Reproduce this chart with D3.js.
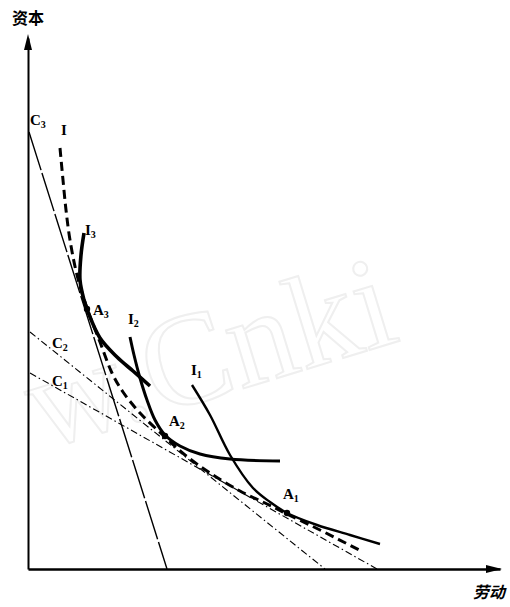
<!DOCTYPE html>
<html><head><meta charset="utf-8">
<script src="https://cdn.jsdelivr.net/npm/d3@7/dist/d3.min.js"></script>
<style>body{margin:0;background:#fff}svg{display:block}</style>
</head><body><svg id="c" width="510" height="607"></svg>
<script>
// Data (labour on x, capital on y, arbitrary units)
const envelopeI = [[32,421],[35,389],[38,359],[42,329],[49,294],[59,261],[72,227],[84,196],[95,177],[112,156],[137,132],[157,114],[182,96],[212,78],[239,65],[259,55],[292,39],[335,17]];
const isoI3 = [[56,336],[53,314],[52,289],[56,269],[60,257],[72,231],[89,212],[105,198],[122,183]];
const isoI2 = [[102,232],[106,214],[112,191],[119,169],[127,149],[137,134],[152,123],[172,115],[202,110],[252,108]];
const isoI1 = [[164,184],[182,154],[202,114],[225,81],[242,67],[259,56],[289,44],[322,34],[352,25]];
const costC3 = [[1,437],[139,0]];
const costC2 = [[2,237],[297,0]];
const costC1 = [[2,196],[349,0]];
const tangentPoints = [["A","1",259,56],["A","2",137,133],["A","3",59,260]];
const axisLabels = {x:"劳动", y:"资本"};

const svg = d3.select("#c");
const x = d3.scaleLinear().domain([0,472]).range([28,500]);
const y = d3.scaleLinear().domain([0,531]).range([569,38]);

// watermark
svg.append("text").attr("x",42).attr("y",450).attr("transform","rotate(-17,42,450)")
  .attr("font-family","Liberation Serif").attr("font-size",132).attr("fill","none")
  .attr("stroke","#efefef").attr("stroke-width",2).text("w.Cnki");

// axes
svg.append("g").attr("transform",`translate(${x(0)},0)`)
  .call(d3.axisLeft(y).ticks(0).tickSizeOuter(0))
  .call(g=>g.select(".domain").attr("stroke","#000").attr("stroke-width",2));
svg.append("g").attr("transform",`translate(0,${y(0)})`)
  .call(d3.axisBottom(x).ticks(0).tickSizeOuter(0))
  .call(g=>g.select(".domain").attr("stroke","#000").attr("stroke-width",2.5));
svg.append("path").attr("d",`M${x(0)},${y(531)-4} L${x(0)-4},${y(531)+12} L${x(0)+4},${y(531)+12}Z`).attr("fill","#000");
svg.append("path").attr("d",`M${x(472)+2},${y(0)} L${x(472)-14},${y(0)-4} L${x(472)-14},${y(0)+4}Z`).attr("fill","#000");

const lineCurve = d3.line().x(d=>x(d[0])).y(d=>y(d[1])).curve(d3.curveCatmullRom.alpha(0.5));
const lineStraight = d3.line().x(d=>x(d[0])).y(d=>y(d[1]));

// cost lines
svg.append("path").attr("d",lineStraight(costC3)).attr("fill","none").attr("stroke","#000").attr("stroke-width",1.4).attr("stroke-dasharray","40,3");
svg.append("path").attr("d",lineStraight(costC2)).attr("fill","none").attr("stroke","#000").attr("stroke-width",1.1).attr("stroke-dasharray","7,3,1.5,3");
svg.append("path").attr("d",lineStraight(costC1)).attr("fill","none").attr("stroke","#000").attr("stroke-width",1.1).attr("stroke-dasharray","7,3,1.5,3");

// envelope
svg.append("path").attr("d",lineCurve(envelopeI)).attr("fill","none").attr("stroke","#000").attr("stroke-width",3).attr("stroke-dasharray","9,5");
// isoquants
svg.append("path").attr("d",lineCurve(isoI3)).attr("fill","none").attr("stroke","#000").attr("stroke-width",3.6);
svg.append("path").attr("d",lineCurve(isoI2)).attr("fill","none").attr("stroke","#000").attr("stroke-width",3);
svg.append("path").attr("d",lineCurve(isoI1)).attr("fill","none").attr("stroke","#000").attr("stroke-width",2.4);

// tangent points
svg.selectAll("circle.pt").data(tangentPoints).join("circle").attr("class","pt")
  .attr("cx",d=>x(d[2])).attr("cy",d=>y(d[3])).attr("r",3.2).attr("fill","#000");

// labels
function lab(px,py,main,sub,size){
  const t = svg.append("text").attr("x",px).attr("y",py).attr("font-family","Liberation Serif")
    .attr("font-size",size||15).attr("font-weight","bold").attr("fill","#000");
  t.append("tspan").text(main);
  if(sub) t.append("tspan").attr("font-size",10).attr("dy",3).text(sub);
}
const [a1,a2,a3] = tangentPoints;
lab(x(a1[2])-4, y(a1[3])-14, a1[0], a1[1]);
lab(x(a2[2])+4, y(a2[3])-10, a2[0], a2[1]);
lab(x(a3[2])+6, y(a3[3])+6, a3[0], a3[1]);
lab(x(isoI3[0][0])+1, y(isoI3[0][1])+2, "I", "3");
lab(x(isoI2[0][0])-2, y(isoI2[0][1])-13, "I", "2");
lab(x(isoI1[0][0])-1, y(isoI1[0][1])-10, "I", "1");
lab(x(envelopeI[0][0])+1, y(envelopeI[0][1])-13, "I", "");
lab(x(costC3[0][0])+1, y(costC3[0][1])-7, "C", "3");
lab(x(costC2[0][0])+22, y(costC2[0][1])+16, "C", "2");
lab(x(costC1[0][0])+22, y(costC1[0][1])+13, "C", "1");

svg.append("text").attr("x",12).attr("y",24).attr("font-family","Noto Sans CJK SC").attr("font-weight","bold").attr("font-size",16).text(axisLabels.y);
svg.append("text").attr("x",473).attr("y",598).attr("font-family","Noto Sans CJK SC").attr("font-weight","bold").attr("font-style","italic").attr("font-size",16).text(axisLabels.x);
</script></body></html>
